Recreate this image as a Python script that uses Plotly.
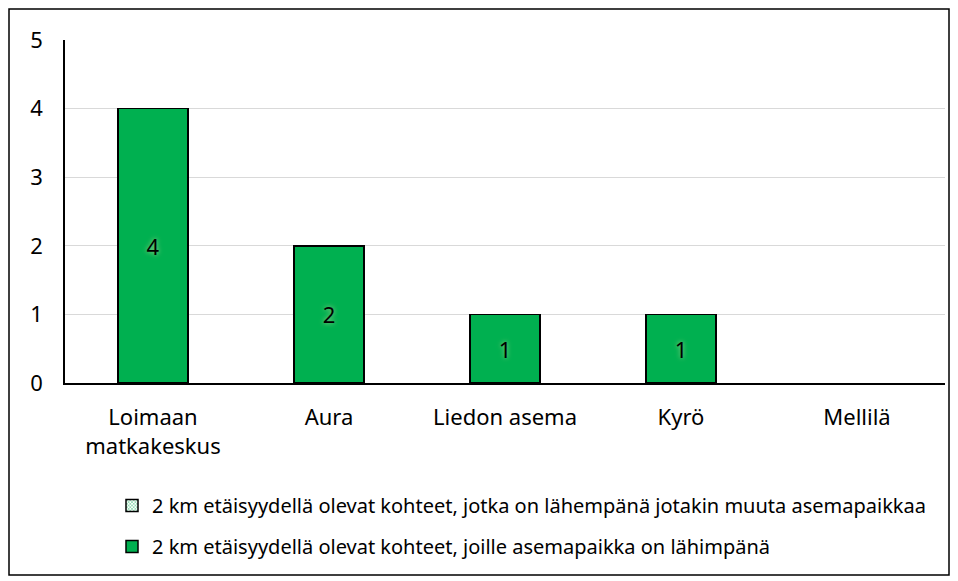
import plotly.graph_objects as go

categories = ["Loimaan<br>matkakeskus", "Aura", "Liedon asema", "Kyrö", "Mellilä"]
other_nearest = [0, 0, 0, 0, 0]
station_nearest = [4, 2, 1, 1, 0]
name_other = "2 km etäisyydellä olevat kohteet, jotka on lähempänä jotakin muuta asemapaikkaa"
name_station = "2 km etäisyydellä olevat kohteet, joille asemapaikka on lähimpänä"

FONT = "Noto Sans"

def nz(vals):
    return [v if v else None for v in vals]

fig = go.Figure()
fig.add_trace(go.Bar(
    x=categories, y=nz(other_nearest), name=name_other,
    legendgroup="a",
    marker=dict(color="white", line=dict(color="black", width=1.5),
                pattern=dict(shape="x", fgcolor="#00B050", bgcolor="#FFFFFF", size=3, solidity=0.5)),
))
fig.add_trace(go.Bar(
    x=categories, y=nz(station_nearest), name=name_station,
    legendgroup="b",
    marker=dict(color="#00B050", line=dict(color="black", width=1.5)),
    text=[str(v) if v else "" for v in station_nearest],
    textposition="inside", insidetextanchor="middle",
    textfont=dict(family=FONT, size=22, color="black", shadow="0px 0px 5px #A9D08E"),
))

W, H = 958, 581
L, R, T, B = 65, 13, 40, 198
pw, ph = W - L - R, H - T - B

def px(x):
    return (x - L) / pw

def py(y):
    return (H - B - y) / ph

fig.update_layout(
    width=W, height=H,
    margin=dict(l=L, r=R, t=T, b=B),
    barmode="stack", bargap=0.6,
    plot_bgcolor="white", paper_bgcolor="white",
    font=dict(family=FONT, size=22, color="black"),
    showlegend=True,
    legend=dict(
        x=px(112), y=py(486), xanchor="left", yanchor="top",
        font=dict(family=FONT, size=20, color="black"),
        traceorder="grouped", tracegroupgap=12,
        bgcolor="rgba(0,0,0,0)",
    ),
    xaxis=dict(showline=True, linecolor="black", linewidth=2, ticks="",
               ticklabelstandoff=14, tickfont=dict(size=22)),
    yaxis=dict(range=[0, 5], dtick=1, showgrid=True, gridcolor="#D9D9D9", gridwidth=1,
               showline=True, linecolor="black", linewidth=1.5, zeroline=False,
               ticks="", ticklabelstandoff=16, tickfont=dict(size=22)),
    shapes=[dict(type="rect", xref="paper", yref="paper",
                 x0=px(9), x1=px(949), y0=py(575), y1=py(9),
                 line=dict(color="black", width=1.5), fillcolor="rgba(0,0,0,0)", layer="below")],
)

fig.write_html("out.html", config={"displayModeBar": False},
               post_script="document.body.style.margin='0';")
